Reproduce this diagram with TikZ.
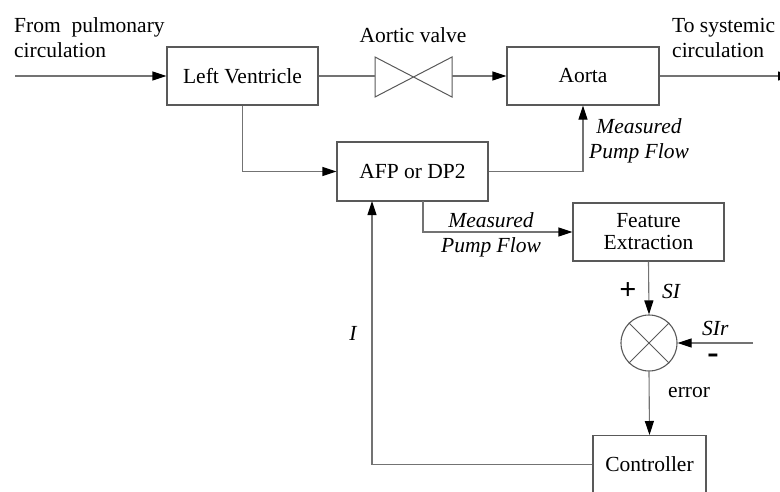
\documentclass[tikz,border=0pt]{standalone}
\usepackage{fontspec}
\setmainfont{Liberation Serif}
\usetikzlibrary{arrows.meta}
\tikzset{
  box/.style={draw=black!65, line width=1.1pt, rectangle, inner sep=0pt, font=\fontsize{21.5}{25}\selectfont},
  conn/.style={draw=black!55, line width=1.1pt},
  arr/.style={conn, -{Triangle[length=14pt,width=9pt,color=black]}},
  lbl/.style={inner sep=0pt, font=\fontsize{21.5}{25}\selectfont},
  ilbl/.style={lbl, font=\fontsize{21.5}{25}\selectfont\itshape},
}
\begin{document}
\begin{tikzpicture}[x=1pt,y=-1pt]
\useasboundingbox (0,0) rectangle (780,491);
\clip (0,0) rectangle (780,491);
% boxes
\node[box, minimum width=151pt, minimum height=58pt] (lv) at (242.5,76) {Left Ventricle};
\node[box, minimum width=152pt, minimum height=58pt] (aorta) at (583,76) {Aorta};
\node[box, minimum width=151pt, minimum height=59pt] (afp) at (412.5,171.5) {AFP or DP2};
\node[box, minimum width=151pt, minimum height=58pt, align=center] (fe) at (648.5,232) {Feature\\[-3pt]Extraction};
\node[box, minimum width=113pt, minimum height=58pt, anchor=north] (ctrl) at (649.5,435) {Controller};
\node[draw=black!65, line width=1.1pt, circle, minimum size=56pt, inner sep=0pt] (sum) at (649,343) {};
\draw[draw=black!65, line width=1pt] (sum.north west) -- (sum.south east) (sum.north east) -- (sum.south west);
% valve
\coordinate (vl) at (375,76);
\coordinate (vr) at (452,76);
\draw[draw=black!65, line width=1pt] (375,57) -- (452,97) -- (452,57) -- (375,97) -- cycle;
% free ends
\coordinate (in) at (15,76);
\coordinate (out) at (792,76);
\coordinate (sir) at (753,343);
\coordinate (a1) at (423,201);
\coordinate (i1) at (372,201);
% connectors
\draw[arr] (in) -- (lv.west);
\draw[conn] (lv.east) -- (vl);
\draw[arr] (vr) -- (aorta.west);
\draw[arr] (aorta.east) -- (out);
\draw[arr] (lv.south) |- (afp.west);
\draw[arr] (afp.east) -| (aorta.south);
\draw[arr] (a1) |- (fe.west);
\draw[arr] (fe.south) -- (sum.north);
\draw[arr] (sir) -- (sum.east);
\draw[arr] (sum.south) -- (ctrl.north);
\draw[arr] (ctrl.west) -| (i1);
% labels
\node[lbl, anchor=base west] (t1) at (14,32) {From~~pulmonary};
\node[lbl, anchor=base west] (t2) at (14,57) {circulation};
\node[lbl, anchor=base] (t3) at (413,42) {Aortic valve};
\node[lbl, anchor=base west] (t4) at (672,32) {To systemic};
\node[lbl, anchor=base west] (t5) at (672,57) {circulation};
\node[ilbl, anchor=base] (m1) at (639,133) {Measured};
\node[ilbl, anchor=base] (m2) at (639,158) {Pump Flow};
\node[ilbl, anchor=base] (m3) at (491,227) {Measured};
\node[ilbl, anchor=base] (m4) at (491,252) {Pump Flow};
\node[inner sep=0pt, font=\fontsize{30}{30}\selectfont\bfseries] (plus) at (628,291) {+};
\node[ilbl, anchor=base west] (si) at (662,298) {SI};
\node[ilbl, anchor=base west] (sirl) at (702,335) {SIr};
\node[inner sep=0pt, font=\fontsize{34}{34}\selectfont\bfseries] (minus) at (713,359) {-};
\node[lbl, anchor=base west] (err) at (668,397) {error};
\node[ilbl] (il) at (353,333) {I};
\end{tikzpicture}
\end{document}
